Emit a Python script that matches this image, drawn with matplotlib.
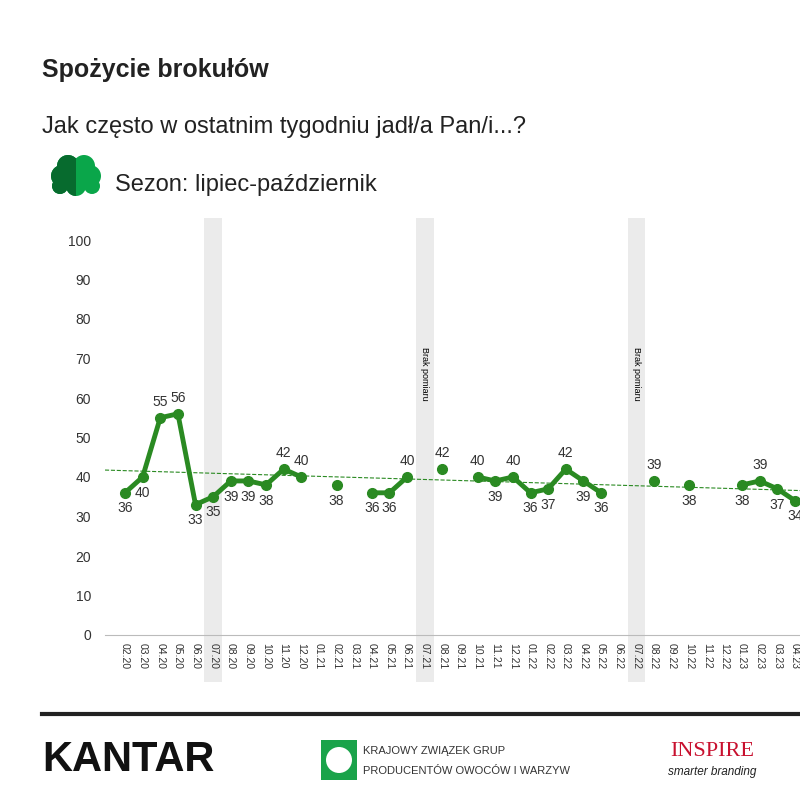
import numpy as np
import matplotlib.pyplot as plt
from matplotlib.patches import Circle, Rectangle

months = ["02.20","03.20","04.20","05.20","06.20","07.20","08.20","09.20","10.20","11.20","12.20",
          "01.21","02.21","03.21","04.21","05.21","06.21","07.21","08.21","09.21","10.21","11.21","12.21",
          "01.22","02.22","03.22","04.22","05.22","06.22","07.22","08.22","09.22","10.22","11.22","12.22",
          "01.23","02.23","03.23","04.23"]
values = [36,40,55,56,33,35,39,39,38,42,40,
          None,38,None,36,36,40,None,42,None,40,39,40,
          36,37,42,39,36,None,None,39,None,38,None,None,
          38,39,37,34]
label_above = [0,0,1,1,0,0,0,0,0,1,1,
               0,0,0,0,0,1,0,1,0,1,0,1,
               0,0,1,0,0,0,0,1,0,0,0,0,
               0,1,0,0]
gap_months = ["07.20","07.21","07.22"]
brak_months = ["07.21","07.22"]

plt.rcParams['font.family'] = 'Liberation Sans'
fig = plt.figure(figsize=(8,8), dpi=100)
ax = fig.add_axes([105/800, 165/800, 695/800, 395/800])
x = np.arange(len(months))
y = np.array([np.nan if v is None else v for v in values], float)
ax.set_xlim(-20/17.63, 38 + 5/17.63)
ax.set_ylim(0, 100)

for m in gap_months:
    i = months.index(m)
    ax.add_patch(Rectangle((i-0.5, -12), 1.0, 117.5, color='#ebebeb', clip_on=False, zorder=0, lw=0))
for m in brak_months:
    i = months.index(m)
    ax.text(i, 73, "Brak pomiaru", rotation=270, fontsize=6.5, ha='center', va='top', zorder=5)

green = '#2a8a22'
ax.plot(x, y, color=green, lw=3.5, zorder=3, solid_capstyle='round')
ax.plot(x, y, 'o', color=green, ms=7, zorder=4)
ok = ~np.isnan(y)
k, b = np.polyfit(x[ok], y[ok], 1)
xx = np.array(ax.get_xlim())
ax.plot(xx, k*xx+b, '--', color=green, lw=0.8, zorder=2)
for i, v in enumerate(values):
    if v is None: continue
    if label_above[i]:
        ax.text(i, v+2.2, str(v), ha='center', va='bottom', fontsize=10, color='#333333')
    else:
        ax.text(i, v-2.2, str(v), ha='center', va='top', fontsize=10, color='#333333')

ax.set_yticks(range(0, 101, 10))
ax.set_xticks(x)
ax.set_xticklabels(months, rotation=270, fontsize=7.5, color='#333333')
ax.tick_params(axis='y', length=0, labelsize=10, labelcolor='#333333', pad=10)
ax.tick_params(axis='x', length=0, pad=6)
for s in ['top', 'right', 'left']:
    ax.spines[s].set_visible(False)
ax.spines['bottom'].set_color('#bbbbbb')

fig.text(42/800, 1-70/800, "Spożycie brokułów", fontsize=18, fontweight='bold', va='center', color='#222222')
fig.text(42/800, 1-127/800, "Jak często w ostatnim tygodniu jadł/a Pan/i...?", fontsize=17, va='center', color='#222222')
fig.text(115/800, 1-185/800, "Sezon: lipiec-październik", fontsize=17, va='center', color='#222222')

# broccoli icon
ic = fig.add_axes([48/800, 1-200/800, 56/800, 46/800])
ic.set_xlim(0, 56); ic.set_ylim(0, 46); ic.axis('off')
blobs = [(28, 28, 14), (14, 24, 11), (42, 24, 11), (20, 34, 11), (36, 34, 11), (28, 14, 10), (12, 14, 8), (44, 14, 8)]
for cx, cy, r in blobs:
    ic.add_patch(Circle((cx, cy), r, color='#0aa64a', lw=0))
clip = Rectangle((0, 0), 28, 46, transform=ic.transData)
for cx, cy, r in blobs:
    c = Circle((cx, cy), r, color='#076b2e', lw=0)
    ic.add_patch(c); c.set_clip_path(clip)

# footer
fig.add_artist(plt.Line2D([42/800, 1], [1-714/800]*2, color='#222222', lw=3))
fig.text(42/800, 1-760/800, "KANTAR", fontsize=30, fontweight='bold', va='center', color='#111111')
fig.add_artist(Rectangle((321/800, 1-780/800), 36/800, 40/800, color='#1aa34a', lw=0))
fig.add_artist(Circle((339/800, 1-760/800), 13/800, color='white', lw=0))
fig.text(363/800, 1-751/800, "KRAJOWY ZWIĄZEK GRUP", fontsize=8, va='center', color='#333333')
fig.text(363/800, 1-771/800, "PRODUCENTÓW OWOCÓW I WARZYW", fontsize=8, va='center', color='#333333')
fig.text(712/800, 1-752/800, "INSPIRE", fontsize=16, family='Liberation Serif', ha='center', va='center', color='#c8102e')
fig.text(712/800, 1-772/800, "smarter branding", fontsize=8.5, style='italic', ha='center', va='center', color='#222222')

fig.savefig("out.png", dpi=100)
